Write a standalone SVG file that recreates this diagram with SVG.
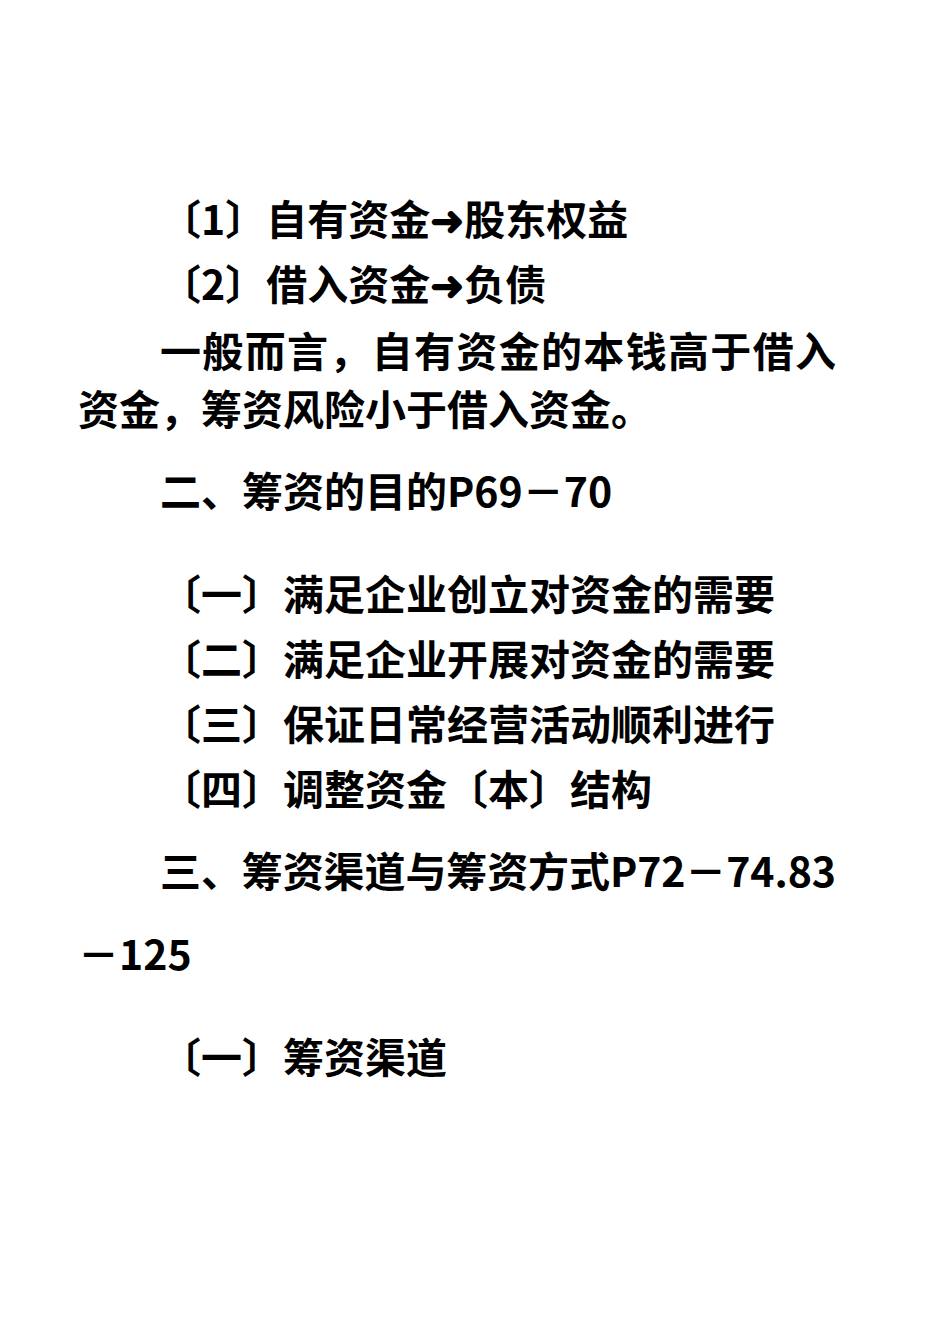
<svg xmlns="http://www.w3.org/2000/svg" width="950" height="1344" viewBox="0 0 950 1344">
<style>text{font-family:"Noto Sans CJK SC","Noto Sans CJK JP",sans-serif;font-size:41px;font-weight:bold;fill:#000}</style>
<rect width="950" height="1344" fill="#fff"/>
<text x="160" y="235">〔1〕自有资金➜股东权益</text>
<text x="160" y="300">〔2〕借入资金➜负债</text>
<text x="160" y="367" textLength="676">一般而言，自有资金的本钱高于借入</text>
<text x="78" y="425">资金，筹资风险小于借入资金。</text>
<text x="160" y="507">二、筹资的目的P69－70</text>
<text x="160" y="610">〔一〕满足企业创立对资金的需要</text>
<text x="160" y="675">〔二〕满足企业开展对资金的需要</text>
<text x="160" y="740">〔三〕保证日常经营活动顺利进行</text>
<text x="160" y="805">〔四〕调整资金〔本〕结构</text>
<text x="160" y="887" textLength="676">三、筹资渠道与筹资方式P72－74.83</text>
<text x="78" y="970">－125</text>
<text x="160" y="1073">〔一〕筹资渠道</text>
</svg>
